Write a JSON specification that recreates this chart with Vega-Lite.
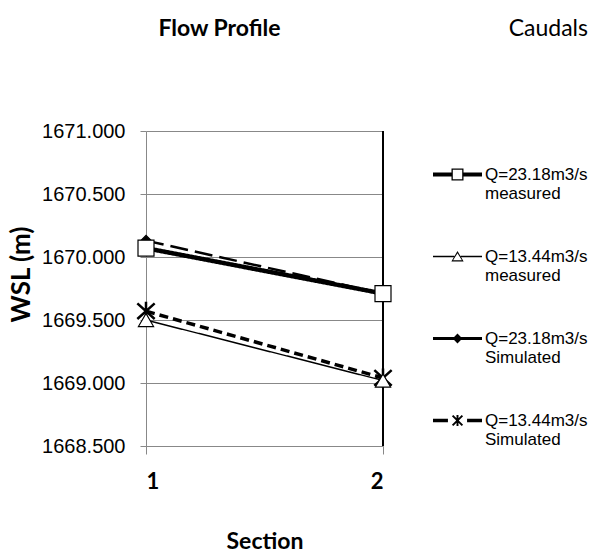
{
  "$schema": "https://vega.github.io/schema/vega-lite/v6.json",
  "width": 237,
  "height": 315,
  "autosize": {"type": "none"},
  "padding": {"left": 146, "top": 131, "right": 213, "bottom": 112},
  "background": "white",
  "title": {
    "text": "Flow Profile",
    "font": "Lato",
    "fontSize": 23,
    "fontWeight": "bold",
    "color": "black",
    "anchor": "middle",
    "dx": -45,
    "offset": -23
  },
  "config": {
    "view": {"stroke": null},
    "axis": {
      "labelColor": "black",
      "titleColor": "black",
      "domainColor": "#888888",
      "tickColor": "#888888",
      "gridColor": "#888888"
    }
  },
  "data": {
    "values": [
      {"series": "Q=23.18m3/s measured", "section": 1, "wsl": 1670.07},
      {"series": "Q=23.18m3/s measured", "section": 2, "wsl": 1669.71},
      {"series": "Q=13.44m3/s measured", "section": 1, "wsl": 1669.50},
      {"series": "Q=13.44m3/s measured", "section": 2, "wsl": 1669.02},
      {"series": "Q=23.18m3/s Simulated", "section": 1, "wsl": 1670.13},
      {"series": "Q=23.18m3/s Simulated", "section": 2, "wsl": 1669.71},
      {"series": "Q=13.44m3/s Simulated", "section": 1, "wsl": 1669.57},
      {"series": "Q=13.44m3/s Simulated", "section": 2, "wsl": 1669.04}
    ]
  },
  "layer": [
    {
      "mark": {"type": "rule", "color": "black", "strokeWidth": 2},
      "encoding": {"x": {"datum": 2, "type": "quantitative"}}
    },
    {
      "mark": {"type": "line", "color": "black"},
      "encoding": {
        "x": {
          "field": "section", "type": "quantitative",
          "scale": {"domain": [1, 2], "nice": false, "zero": false},
          "axis": {
            "values": [1, 2], "format": "d", "grid": false,
            "labelFontSize": 22, "labelFontWeight": "bold", "labelFont": "Lato",
            "labelPadding": 17, "tickSize": 8,
            "title": "Section", "titleFont": "Lato", "titleFontSize": 23, "titleFontWeight": "bold", "titlePadding": 38
          }
        },
        "y": {
          "field": "wsl", "type": "quantitative",
          "scale": {"domain": [1668.5, 1671], "nice": false, "zero": false},
          "axis": {
            "values": [1668.5, 1669, 1669.5, 1670, 1670.5, 1671],
            "format": ".3f", "labelFont": "Liberation Sans", "labelFontSize": 20, "labelPadding": 15, "tickSize": 6,
            "title": "WSL (m)", "titleFont": "Lato", "titleFontSize": 26, "titleFontWeight": "bold",
            "titleX": -112, "titleY": 143
          }
        },
        "detail": {"field": "series"},
        "strokeWidth": {
          "condition": [
            {"test": "datum.series == 'Q=23.18m3/s measured'", "value": 4.5},
            {"test": "datum.series == 'Q=13.44m3/s measured'", "value": 1.5},
            {"test": "datum.series == 'Q=23.18m3/s Simulated'", "value": 2.5}
          ],
          "value": 3.5
        },
        "strokeDash": {
          "condition": [
            {"test": "datum.series == 'Q=23.18m3/s Simulated'", "value": [18, 7]},
            {"test": "datum.series == 'Q=13.44m3/s Simulated'", "value": [9, 5]}
          ],
          "value": [1, 0]
        }
      }
    },
    {
      "mark": {"type": "point", "stroke": "black", "opacity": 1},
      "encoding": {
        "x": {"field": "section", "type": "quantitative"},
        "y": {"field": "wsl", "type": "quantitative"},
        "shape": {
          "condition": [
            {"test": "datum.series == 'Q=23.18m3/s measured'", "value": "square"},
            {"test": "datum.series == 'Q=13.44m3/s measured'", "value": "triangle-up"},
            {"test": "datum.series == 'Q=23.18m3/s Simulated'", "value": "diamond"}
          ],
          "value": "M-1,-0.9L1,0.9M-1,0.9L1,-0.9M0,-1.1L0,1.1"
        },
        "size": {
          "condition": [
            {"test": "datum.series == 'Q=23.18m3/s measured'", "value": 256},
            {"test": "datum.series == 'Q=13.44m3/s measured'", "value": 230},
            {"test": "datum.series == 'Q=23.18m3/s Simulated'", "value": 110}
          ],
          "value": 300
        },
        "fill": {
          "condition": [
            {"test": "datum.series == 'Q=23.18m3/s measured'", "value": "white"},
            {"test": "datum.series == 'Q=13.44m3/s measured'", "value": "white"}
          ],
          "value": "black"
        },
        "strokeWidth": {
          "condition": [
            {"test": "datum.series == 'Q=13.44m3/s Simulated'", "value": 2.5}
          ],
          "value": 1.2
        },
        "order": {"field": "series"}
      }
    },
    {
      "transform": [{"filter": "datum.section > 2"}],
      "mark": {"type": "point", "filled": true, "color": "black", "strokeWidth": 0, "size": 2401},
      "encoding": {
        "x": {"field": "section", "type": "quantitative"},
        "y": {"field": "wsl", "type": "quantitative"},
        "shape": {
          "field": "series", "type": "nominal",
          "scale": {
            "domain": ["Q=23.18m3/s measured", "Q=13.44m3/s measured", "Q=23.18m3/s Simulated", "Q=13.44m3/s Simulated"],
            "range": [
              "M-1,-0.082H-0.245V0.082H-1Z M0.245,-0.082H1V0.082H0.245Z M-0.245,-0.245H0.245V0.245H-0.245Z M-0.192,-0.192V0.192H0.192V-0.192Z",
              "M-1,-0.03H-0.13V0.03H-1Z M0.13,-0.03H1V0.03H0.13Z M0,-0.22L0.25,0.2L-0.25,0.2Z M0,-0.13L-0.18,0.155L0.18,0.155Z",
              "M-1,-0.06H1V0.06H-1Z M0,-0.2L0.2,0L0,0.2L-0.2,0Z",
              "M-1,-0.07H-0.39V0.07H-1Z M0.39,-0.07H1V0.07H0.39Z M-0.172,-0.228L0.228,0.172L0.172,0.228L-0.228,-0.172Z M0.228,-0.172L-0.172,0.228L-0.228,0.172L0.172,-0.228Z M-0.04,-0.22H0.04V0.22H-0.04Z"
            ]
          },
          "legend": {
            "orient": "none",
            "legendX": 287,
            "legendY": -113,
            "padding": 0,
            "title": "Caudals",
            "titleFont": "Lato",
            "titleFontSize": 23,
            "titleFontWeight": "normal",
            "titleColor": "black",
            "titleAnchor": "end",
            "titlePadding": 109,
            "labelFont": "Liberation Sans",
            "labelFontSize": 17,
            "labelColor": "black",
            "labelExpr": "split(datum.label, ' ')",
            "labelBaseline": "middle",
            "labelOffset": 3,
            "symbolSize": 2401,
            "symbolFillColor": "black",
            "symbolStrokeWidth": 0,
            "symbolOpacity": 1,
            "rowPadding": 30,
            "labelLimit": 200
          }
        }
      }
    }
  ]
}
